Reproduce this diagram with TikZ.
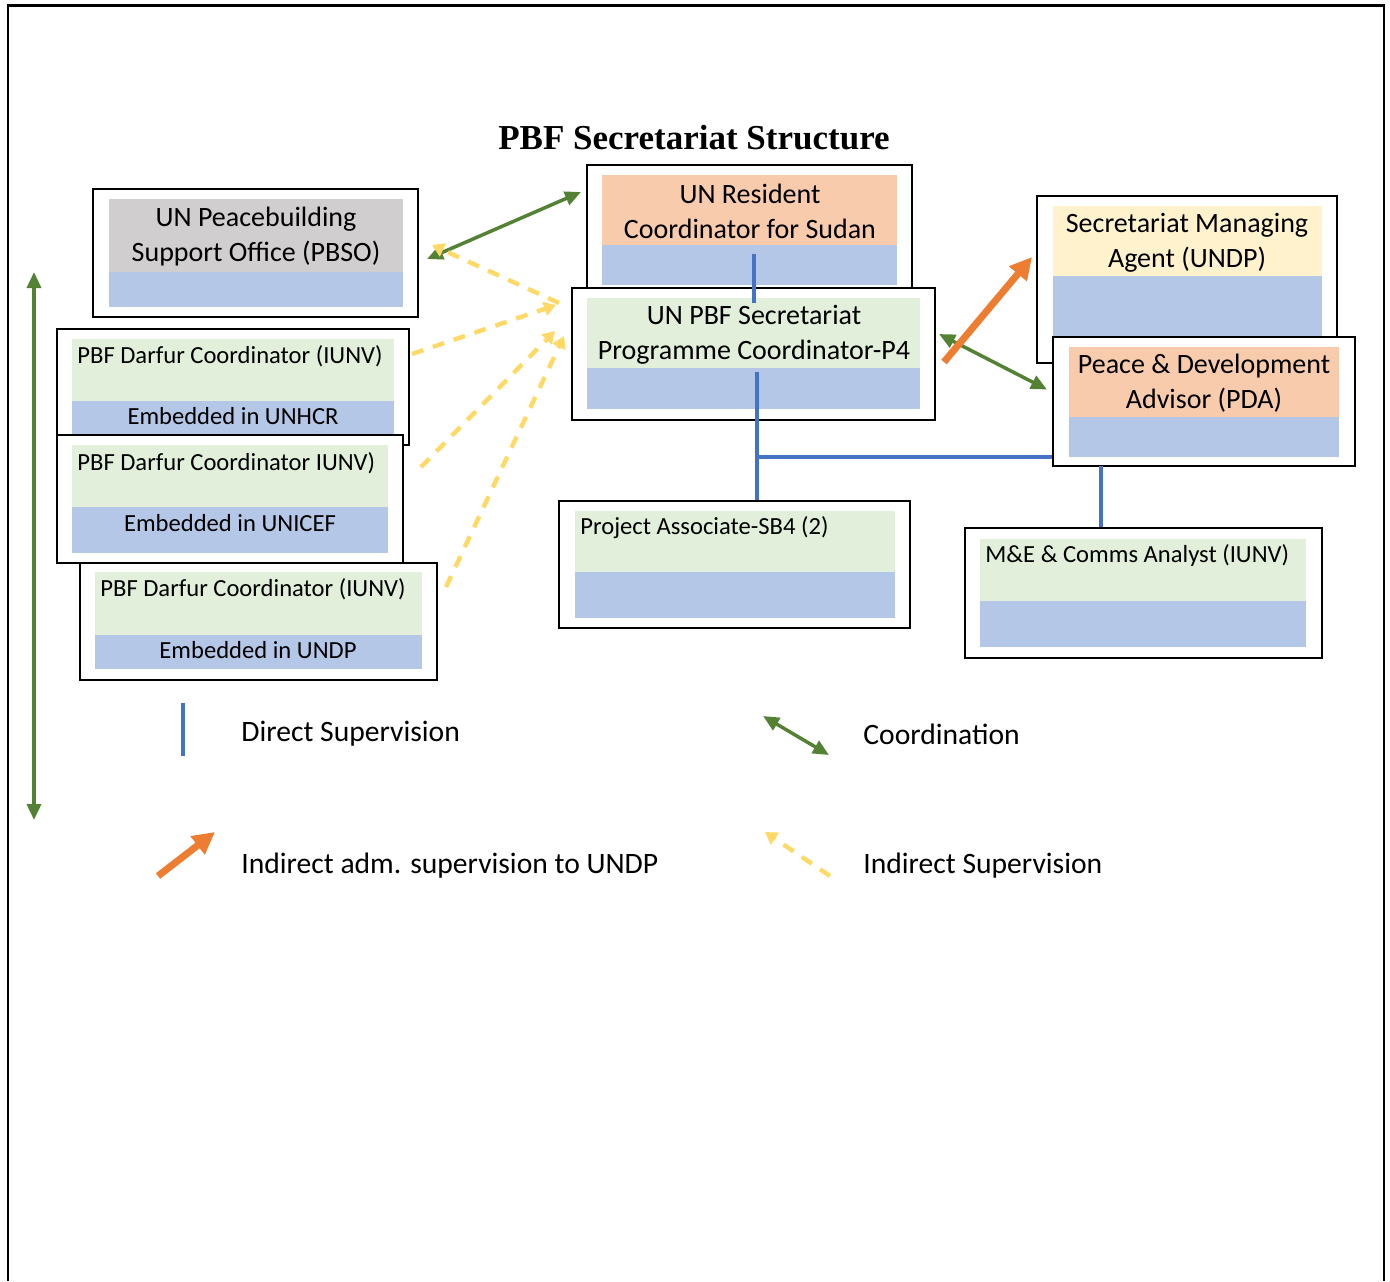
\documentclass[tikz,border=0pt]{standalone}
\usepackage{fontspec}
\setmainfont{Carlito}
\newfontfamily\titlefont{Liberation Serif}
\usetikzlibrary{arrows.meta,fit}

\definecolor{bandgrey}{HTML}{D0CECE}
\definecolor{bandorange}{HTML}{F8CBAD}
\definecolor{bandgreen}{HTML}{E2EFDA}
\definecolor{bandblue}{HTML}{B4C7E7}
\definecolor{bandyellow}{HTML}{FFF2CC}
\definecolor{lineblue}{HTML}{4472C4}
\definecolor{arrowgreen}{HTML}{548235}
\definecolor{arroworange}{HTML}{ED7D31}
\definecolor{dashyellow}{HTML}{FFD966}

\begin{document}
\begin{tikzpicture}[x=0.5pt,y=-0.5pt,
frame/.style={draw=black,line width=1pt,fill=white,inner sep=0pt},
band/.style={inner sep=0pt,outer sep=0pt},
boxtext/.style={font=\fontsize{14}{17.5}\selectfont,align=center,inner sep=0pt},
smalltext/.style={font=\fontsize{12.3}{15}\selectfont,inner sep=0pt},
keytext/.style={font=\fontsize{14.8}{17}\selectfont,anchor=west,inner sep=0pt},
title/.style={font=\titlefont\bfseries\fontsize{17.5}{20}\selectfont},
direct/.style={draw=lineblue,line width=2.2pt},
coord/.style={draw=arrowgreen,line width=1.75pt,{Triangle[length=8pt,width=7pt]}-{Triangle[length=8pt,width=7pt]}},
admin/.style={draw=arroworange,line width=3.5pt,-{Triangle[length=11pt,width=11pt]}},
indirect/.style={draw=dashyellow,line width=2.2pt,dash pattern=on 6pt off 5pt,-{Triangle[length=6pt,width=7pt]}}
]
\useasboundingbox (0,0) rectangle (1390,1281);
\draw[line width=1pt] (8,1281) -- (8,5) -- (1384,5) -- (1384,1281);
\draw[line width=1.5pt] (8,5) -- (1384,5);

\node[title] (title) at (694,138) {PBF Secretariat Structure};

% PBSO
\node[frame,fit={(93,189) (418,317)}] (pbso) {};
\node[band,fill=bandgrey,fit={(109,199) (403,272)}] (pbsoTop) {};
\node[band,fill=bandblue,fit={(109,272) (403,307)}] (pbsoBase) {};
\node[boxtext] (pbsoName) at (256,237) {UN Peacebuilding\\Support Office (PBSO)};

% Resident Coordinator
\node[frame,fit={(587,165) (912,292)}] (rc) {};
\node[band,fill=bandorange,fit={(602,175) (897,245)}] (rcTop) {};
\node[band,fill=bandblue,fit={(602,245) (897,285)}] (rcBase) {};
\node[boxtext] (rcName) at (750,211.5) {UN Resident\\Coordinator for Sudan};

% Programme Coordinator
\node[frame,fit={(572,288) (935,420)}] (pc) {};
\node[band,fill=bandgreen,fit={(587,298) (920,368)}] (pcTop) {};
\node[band,fill=bandblue,fit={(587,368) (920,409)}] (pcBase) {};
\node[boxtext] (pcName) at (754,334.5) {UN PBF Secretariat\\Programme Coordinator-P4};

% Managing Agent
\node[frame,fit={(1037,196) (1337,363)}] (sma) {};
\node[band,fill=bandyellow,fit={(1053,206) (1322,276)}] (smaTop) {};
\node[band,fill=bandblue,fit={(1053,276) (1322,350)}] (smaBase) {};
\node[boxtext] (smaName) at (1187,243) {Secretariat Managing\\Agent (UNDP)};

% PDA
\node[frame,fit={(1053,337) (1355,466)}] (pda) {};
\node[band,fill=bandorange,fit={(1069,347) (1339,417)}] (pdaTop) {};
\node[band,fill=bandblue,fit={(1069,417) (1339,457)}] (pdaBase) {};
\node[boxtext] (pdaName) at (1204,383.5) {Peace \& Development\\Advisor (PDA)};

% Darfur coordinators
\node[frame,fit={(57,329) (409,445)}] (d1) {};
\node[band,fill=bandgreen,fit={(72,339) (394,401)}] (d1Top) {};
\node[band,fill=bandblue,fit={(72,401) (394,435)}] (d1Base) {};
\node[smalltext,anchor=west] (d1Name) at (77,356) {PBF Darfur Coordinator (IUNV)};
\node[smalltext] (d1Host) at (233,416) {Embedded in UNHCR};

\node[frame,fit={(57,435) (403,563)}] (d2) {};
\node[band,fill=bandgreen,fit={(72,445) (388,507)}] (d2Top) {};
\node[band,fill=bandblue,fit={(72,507) (388,553)}] (d2Base) {};
\node[smalltext,anchor=west] (d2Name) at (77,463) {PBF Darfur Coordinator IUNV)};
\node[smalltext] (d2Host) at (230,523) {Embedded in UNICEF};

\node[frame,fit={(80,563) (437,680)}] (d3) {};
\node[band,fill=bandgreen,fit={(95,572) (422,635)}] (d3Top) {};
\node[band,fill=bandblue,fit={(95,635) (422,669)}] (d3Base) {};
\node[smalltext,anchor=west] (d3Name) at (100,589) {PBF Darfur Coordinator (IUNV)};
\node[smalltext] (d3Host) at (258,650) {Embedded in UNDP};

% Project Associate
\node[frame,fit={(559,501) (910,628)}] (pa) {};
\node[band,fill=bandgreen,fit={(575,511) (895,572)}] (paTop) {};
\node[band,fill=bandblue,fit={(575,572) (895,618)}] (paBase) {};
\node[smalltext,anchor=west] (paName) at (580,528) {Project Associate-SB4 (2)};

% M&E
\node[frame,fit={(965,528) (1322,658)}] (me) {};
\node[band,fill=bandgreen,fit={(980,539) (1306,601)}] (meTop) {};
\node[band,fill=bandblue,fit={(980,601) (1306,647)}] (meBase) {};
\node[smalltext,anchor=west] (meName) at (985,555) {M\&E \& Comms Analyst (IUNV)};

% direct supervision
\coordinate (rcTap) at (754,254);
\coordinate (pcTap) at (757,372);
\coordinate (branch) at (757,457);
\coordinate (pdaTap) at (1101,466);
\draw[direct] (rcTap) -- (754,303);
\draw[direct] (pcTap) -- (pcTap |- pa.north);
\draw[direct] (branch) -- (branch -| pda.west);
\draw[direct] (pdaTap) -- (pdaTap |- me.north);

% coordination
\draw[coord] ([shift={(8,6)}]pbso.east) -- ([shift={(-5,28)}]rc.north west);
\draw[coord] ([shift={(3,47)}]pc.north east) -- ([shift={(-5,-12)}]pda.west);
\coordinate (leftTop) at (34,272);
\coordinate (leftBot) at (34,820);
\draw[coord] (leftTop) -- (leftBot);

% indirect supervision
\draw[indirect] ([shift={(-12,16)}]pc.north west) -- ([shift={(13,-8)}]pbso.east);
\draw[indirect] ([shift={(2,26)}]d1.north east) -- ([shift={(-15,18)}]pc.north west);
\draw[indirect] ([shift={(17,33)}]d2.north east) -- ([shift={(-16,44)}]pc.north west);
\draw[indirect] ([shift={(8,25)}]d3.north east) -- ([shift={(-7,49)}]pc.north west);

% admin supervision
\draw[admin] ([shift={(8,8)}]pc.east) -- ([shift={(-4,62)}]sma.north west);

% key
\node[keytext] (keyDirect) at (241,734) {Direct Supervision};
\node[keytext] (keyCoord) at (863,734) {Coordination};
\node[keytext] (keyAdmin) at (241,866) {Indirect adm. supervision to UNDP};
\node[keytext] (keyIndirect) at (863,866) {Indirect Supervision};
\coordinate (kd1) at (183,703);
\coordinate (kd2) at (183,756);
\coordinate (kc1) at (763,716);
\coordinate (kc2) at (829,755);
\coordinate (ka1) at (158,876);
\coordinate (ka2) at (215,832);
\coordinate (ki1) at (830,876);
\coordinate (ki2) at (765,832);
\draw[direct,line width=1.6pt] (kd1) -- (kd2);
\draw[coord] (kc1) -- (kc2);
\draw[admin] (ka1) -- (ka2);
\draw[indirect] (ki1) -- (ki2);

\end{tikzpicture}
\end{document}
